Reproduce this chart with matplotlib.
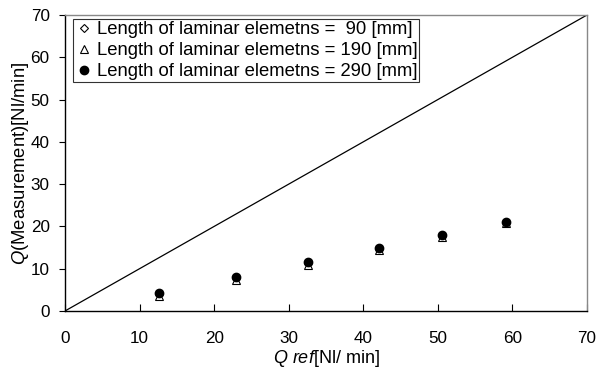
import matplotlib
matplotlib.use("Agg")
import matplotlib.pyplot as plt

plt.rcParams['font.family'] = ['Liberation Sans', 'DejaVu Sans']
plt.rcParams['mathtext.fontset'] = 'custom'
plt.rcParams['mathtext.it'] = 'Liberation Sans:italic'
plt.rcParams['mathtext.rm'] = 'Liberation Sans'

q_ref = [12.6, 22.9, 32.6, 42.1, 50.6, 59.2]
q_90 = [4.1, 7.9, 11.4, 14.8, 17.9, 21.0]
q_190 = [3.6, 7.3, 10.9, 14.4, 17.6, 20.9]
q_290 = [4.3, 8.0, 11.6, 15.0, 18.0, 21.1]
labels = ["Length of laminar elemetns =  90 [mm]",
          "Length of laminar elemetns = 190 [mm]",
          "Length of laminar elemetns = 290 [mm]"]
ticks = [0, 10, 20, 30, 40, 50, 60, 70]

fig = plt.figure(figsize=(5.99, 3.70), dpi=100)
ax = fig.add_axes([0.1085, 0.1595, 0.8715, 0.80])

ax.plot([0, 70], [0, 70], color='black', lw=0.9, zorder=1)
ax.plot(q_ref, q_90, linestyle='none', marker='D', markersize=4.5, mfc='white', mec='black', mew=0.8, label=labels[0], zorder=2)
ax.plot(q_ref, q_190, linestyle='none', marker='^', markersize=5.5, mfc='white', mec='black', mew=0.8, label=labels[1], zorder=3)
ax.plot(q_ref, q_290, linestyle='none', marker='o', markersize=6, mfc='black', mec='black', label=labels[2], zorder=4)

ax.set_xlim(0, 70)
ax.set_ylim(0, 70)
ax.set_xticks(ticks)
ax.set_yticks(ticks)
ax.tick_params(axis='x', direction='in', length=5, labelsize=12.3, pad=14.5)
ax.tick_params(axis='y', direction='out', length=4, labelsize=12.3, pad=7)
for s in ['top', 'right']:
    ax.spines[s].set_color('#888888')
    ax.spines[s].set_linewidth(1.0)
for s in ['left', 'bottom']:
    ax.spines[s].set_color('black')
    ax.spines[s].set_linewidth(1.0)

ax.set_xlabel(r"$\it{Q}$ $\it{ref}$[Nl/ min]", fontsize=13, labelpad=1)
ax.set_ylabel(r"$\it{Q}$(Measurement)[Nl/min]", fontsize=13.3, labelpad=0)

leg = ax.legend(loc='upper left', bbox_to_anchor=(0.015, 0.986), fontsize=13.3, frameon=True,
                fancybox=False, edgecolor='black', borderpad=0.1, handlelength=1.0,
                handletextpad=0.2, labelspacing=0.22, borderaxespad=0.0)
leg.get_frame().set_linewidth(0.8)

fig.savefig("out.png", dpi=100)
